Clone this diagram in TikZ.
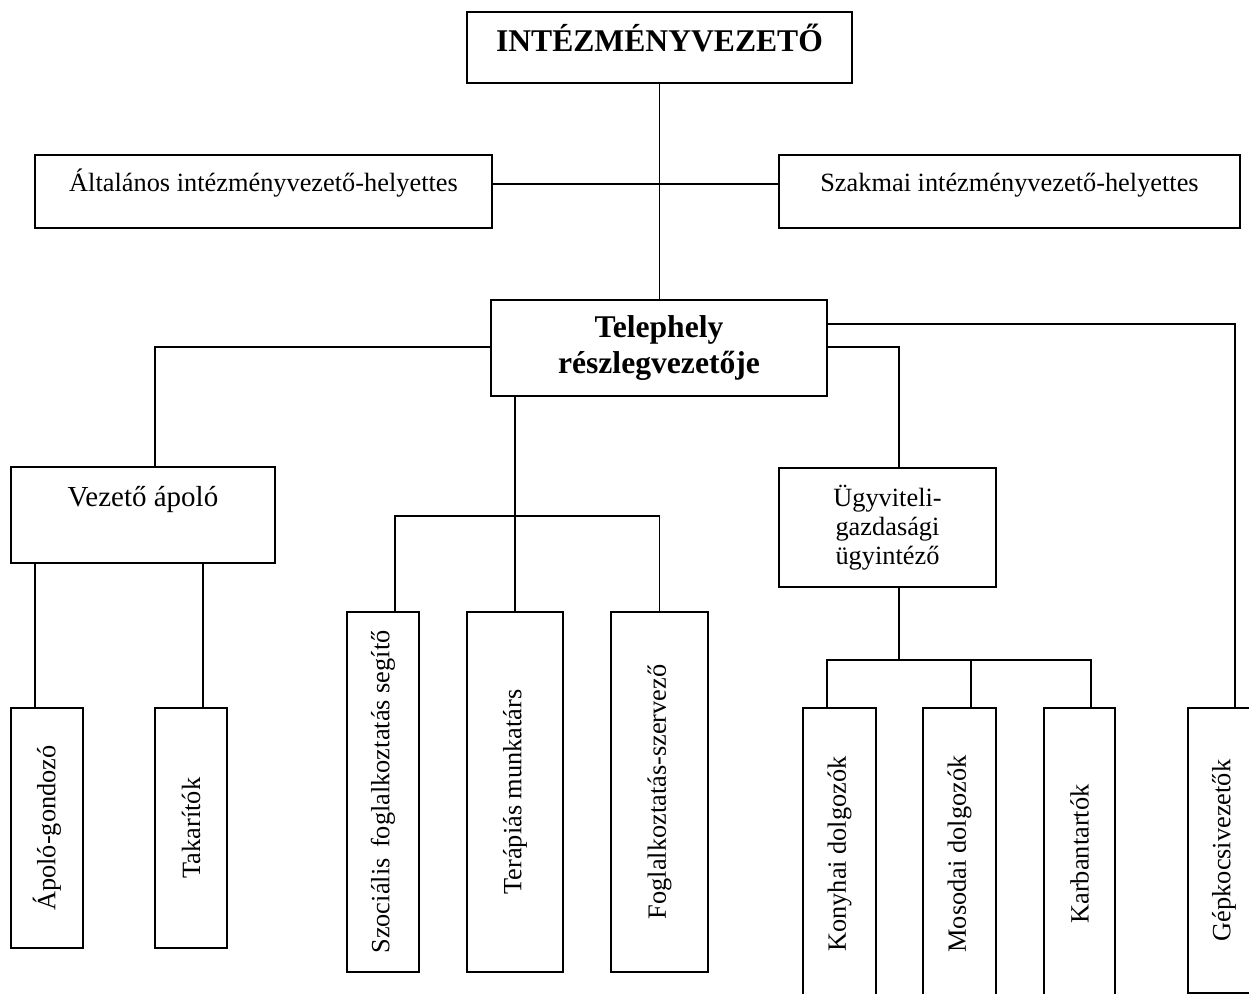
\documentclass[tikz,border=0pt]{standalone}
\usepackage{fontspec}
\setmainfont{Liberation Serif}
\tikzset{
  box/.style={draw, line width=1.1pt, inner sep=2pt, align=center, font=\fontsize{15}{16.5}\selectfont},
  boss/.style={box, font=\fontsize{18}{21}\selectfont\bfseries},
  job/.style={box, minimum width=1.44cm},
  link/.style={line width=1.1pt}
}
\begin{document}
\begin{tikzpicture}[x=0.02cm, y=-0.02cm]
\useasboundingbox (0,0) rectangle (1249,994);
% vezetok
\node[boss, minimum width=7.7cm, minimum height=1.42cm, text height=12pt, text depth=7pt] (top) at (659.5,47.5) {INTÉZMÉNYVEZETŐ};
\node[box, minimum width=9.14cm, minimum height=1.46cm, text height=11pt, text depth=11pt] (genh) at (263.5,191.5) {Általános intézményvezető-helyettes};
\node[box, minimum width=9.22cm, minimum height=1.46cm, text height=11pt, text depth=11pt] (szakh) at (1009.5,191.5) {Szakmai intézményvezető-helyettes};
\node[boss, minimum width=6.72cm, minimum height=1.92cm] (tel) at (659,348) {Telephely\\részlegvezetője};
\node[box, minimum width=5.28cm, minimum height=1.92cm, font=\fontsize{16.5}{18}\selectfont, text height=11pt, text depth=21pt] (vezap) at (143,515) {Vezető ápoló};
\node[box, minimum width=4.34cm, minimum height=2.38cm] (ugyv) at (887.5,527.5) {Ügyviteli-\\gazdasági\\ügyintéző};
% beosztottak
\node[job, minimum height=4.8cm] (apg) at (47,828) {\rotatebox{90}{Ápoló-gondozó}};
\node[job, minimum height=4.8cm] (tak) at (191,828) {\rotatebox{90}{Takarítók}};
\node[job, minimum height=7.2cm] (szoc) at (383,792) {\rotatebox{90}{Szociális\hspace{0.4em}foglalkoztatás segítő}};
\node[job, minimum width=1.92cm, minimum height=7.2cm] (ter) at (515,792) {\rotatebox{90}{Terápiás munkatárs}};
\node[job, minimum width=1.94cm, minimum height=7.2cm] (fogl) at (659.5,792) {\rotatebox{90}{Foglalkoztatás-szervező}};
\node[job, minimum width=1.46cm, minimum height=5.84cm] (kony) at (839.5,854) {\rotatebox{90}{Konyhai dolgozók}};
\node[job, minimum width=1.46cm, minimum height=5.84cm] (mos) at (959.5,854) {\rotatebox{90}{Mosodai dolgozók}};
\node[job, minimum width=1.42cm, minimum height=5.84cm] (karb) at (1079.5,854) {\rotatebox{90}{Karbantartók}};
\node[job, minimum height=5.7cm] (gepk) at (1224,850.5) {\rotatebox{90}{Gépkocsivezetők}};
\coordinate (sbus) at (515,516);
\coordinate (ubus) at (899,660);
% vonalak
\draw[link] (top.south) -- (top.south |- tel.north);
\draw[link] (genh.east |- 0,184) -- (szakh.west |- 0,184);
\draw[link] (tel.west |- 0,347) -| (vezap.north -| 155,0);
\draw[link] (vezap.south -| 35,0) -- (apg.north -| 35,0);
\draw[link] (vezap.south -| 203,0) -- (tak.north -| 203,0);
\draw[link] (tel.south -| ter.north) -- (ter.north);
\draw[link] (szoc.north -| 395,0) |- (sbus) -| (fogl.north);
\draw[link] (tel.east |- 0,347) -| (ugyv.north -| 899,0);
\draw[link] (tel.east |- 0,324) -| (gepk.north -| 1235,0);
\draw[link] (ugyv.south -| ubus) -- (ubus);
\draw[link] (kony.north -| 827,0) |- (ubus) -| (karb.north -| 1091,0);
\draw[link] (ubus -| 971,0) -- (mos.north -| 971,0);
\end{tikzpicture}
\end{document}
